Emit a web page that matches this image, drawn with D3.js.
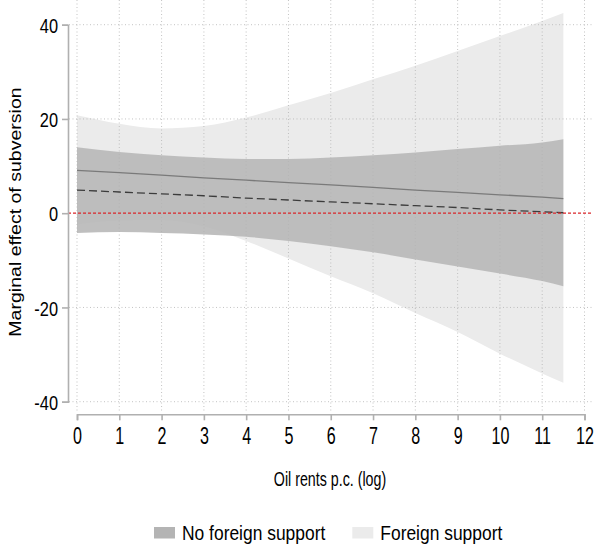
<!DOCTYPE html>
<html><head><meta charset="utf-8">
<script src="https://cdn.jsdelivr.net/npm/d3@7/dist/d3.min.js"></script>
<style>body{margin:0;background:#fff}svg{display:block}text{font-family:"Liberation Sans",Arial,sans-serif;fill:#000}</style>
</head><body>
<svg id="c" width="595" height="550"></svg>
<script>
// Data
const xs        = [0,1,2,3,4,5,6,7,8,9,10,11,11.5];
const fsEst     = [9.1,8.6,8.1,7.5,7.0,6.5,6.0,5.5,4.9,4.4,3.9,3.4,3.1];
const fsUpper   = [20.8,19.0,18.0,18.5,20.3,22.9,25.5,28.4,31.3,34.4,37.6,40.8,42.5];
const fsLower   = [-2.4,-1.6,-1.5,-2.8,-5.9,-9.6,-13.4,-17.0,-21.2,-25.2,-29.8,-34.0,-36.0];
const nfsEst    = [4.9,4.5,4.1,3.7,3.2,2.8,2.4,2.0,1.6,1.2,0.7,0.3,0.1];
const nfsUpper  = [14.0,13.0,12.3,11.8,11.5,11.5,11.8,12.3,12.9,13.6,14.3,15.0,15.7];
const nfsLower  = [-4.2,-4.0,-4.2,-4.5,-5.0,-5.9,-7.0,-8.3,-9.8,-11.3,-12.8,-14.4,-15.5];
const xTicks    = [0,1,2,3,4,5,6,7,8,9,10,11,12];
const yTicks    = [-40,-20,0,20,40];
const legendLabels = ["No foreign support","Foreign support"];
const xTitle = "Oil rents p.c. (log)";
const yTitle = "Marginal effect of subversion";

const svg = d3.select("#c");
const x = d3.scaleLinear().domain([0,12]).range([77,584.5]);
const y = d3.scaleLinear().domain([-40,40]).range([401.7,24.7]);

const rows = xs.map((v,i)=>({x:v,fe:fsEst[i],fu:fsUpper[i],fl:fsLower[i],ne:nfsEst[i],nu:nfsUpper[i],nl:nfsLower[i]}));
const curve = d3.curveMonotoneX;

// bands
svg.append("path").datum(rows)
  .attr("d", d3.area().curve(curve).x(d=>x(d.x)).y0(d=>y(d.fl)).y1(d=>y(d.fu)))
  .attr("fill","#ebebeb");
svg.append("path").datum(rows)
  .attr("d", d3.area().curve(curve).x(d=>x(d.x)).y0(d=>y(d.nl)).y1(d=>y(d.nu)))
  .attr("fill","#b8b8b8").attr("fill-opacity",0.9);

// grid
const grid = svg.append("g").attr("stroke","#b4b4b4").attr("stroke-width",1).attr("stroke-dasharray","1,2.5").attr("stroke-opacity",0.8);
grid.selectAll("line.v").data(xTicks).join("line").attr("class","v")
  .attr("x1",d=>x(d)).attr("x2",d=>x(d)).attr("y1",0).attr("y2",412);
grid.selectAll("line.h").data(yTicks.filter(d=>d!==0)).join("line").attr("class","h")
  .attr("x1",69).attr("x2",593).attr("y1",d=>y(d)).attr("y2",d=>y(d));

// lines
svg.append("path").datum(rows)
  .attr("d", d3.line().x(d=>x(d.x)).y(d=>y(d.fe)))
  .attr("fill","none").attr("stroke","#7a7a7a").attr("stroke-width",1.3);
svg.append("path").datum(rows)
  .attr("d", d3.line().x(d=>x(d.x)).y(d=>y(d.ne)))
  .attr("fill","none").attr("stroke","#3c3c3c").attr("stroke-width",1.3).attr("stroke-dasharray","8,4");

// zero reference
svg.append("line").attr("x1",68).attr("x2",593).attr("y1",y(0)).attr("y2",y(0))
  .attr("stroke","#d9262a").attr("stroke-width",1.2).attr("stroke-dasharray","3,2");

// axes
const fmt = d => String(d);
const yAxis = d3.axisLeft(y).tickValues(yTicks).tickSize(6).tickPadding(4).tickFormat(fmt);
const gy = svg.append("g").attr("transform","translate(68,0)").call(yAxis);
gy.select(".domain").attr("stroke","#b0b0b0").attr("stroke-width",1.6);
gy.selectAll(".tick line").attr("stroke","#b0b0b0").attr("stroke-width",1.6);
gy.selectAll(".tick text").attr("font-size",21).attr("x",0).attr("dy","0.36em")
  .attr("text-anchor","end").attr("font-family","'Liberation Sans',Arial,sans-serif")
  .attr("transform","translate(-10,0) scale(0.78,1)");

const xAxis = d3.axisBottom(x).tickValues(xTicks).tickSize(6).tickPadding(4).tickFormat(fmt);
const gx = svg.append("g").attr("transform","translate(0,414.3)").call(xAxis);
gx.select(".domain").attr("stroke","#b0b0b0").attr("stroke-width",1.6);
gx.selectAll(".tick line").attr("stroke","#b0b0b0").attr("stroke-width",1.6);
gx.selectAll(".tick text").attr("font-size",23).attr("y",0).attr("dy",0)
  .attr("font-family","'Liberation Sans',Arial,sans-serif")
  .attr("transform","translate(0,30) scale(0.7,1)");

// titles
svg.append("text").attr("transform","translate(330,486) scale(0.73,1)")
  .attr("text-anchor","middle").attr("font-size",19.5).text(xTitle);
svg.append("text").attr("transform","translate(21,212) rotate(-90) scale(1.15,1)")
  .attr("text-anchor","middle").attr("font-size",17).text(yTitle);

// legend
const legX = [154,352.3];
const legFill = ["#b4b4b4","#ebebeb"];
const lg = svg.append("g");
legendLabels.forEach((t,i)=>{
  lg.append("rect").attr("x",legX[i]).attr("y",527).attr("width",21).attr("height",11.5).attr("fill",legFill[i]);
  lg.append("text").attr("transform",`translate(${legX[i]+28},540) scale(0.85,1)`)
    .attr("font-size",20.5).text(t);
});
</script>
</body></html>
